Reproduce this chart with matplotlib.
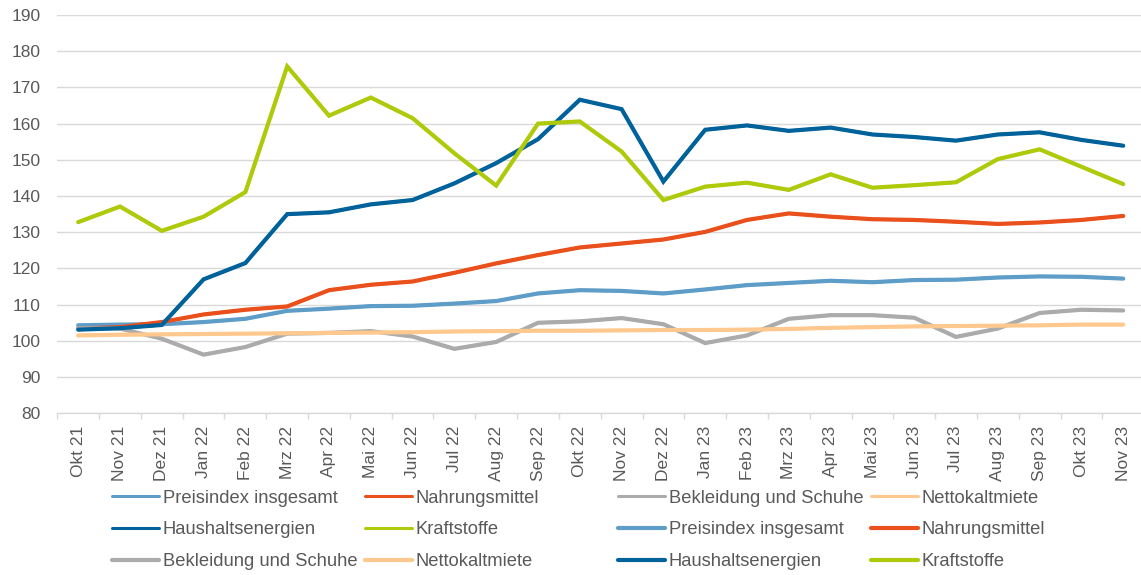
import numpy as np
import matplotlib
matplotlib.use('Agg')
import matplotlib.pyplot as plt

plt.rcParams['font.family'] = ['Liberation Sans', 'DejaVu Sans']

months = ['Okt 21','Nov 21','Dez 21','Jan 22','Feb 22','Mrz 22','Apr 22','Mai 22','Jun 22',
          'Jul 22','Aug 22','Sep 22','Okt 22','Nov 22','Dez 22','Jan 23','Feb 23','Mrz 23',
          'Apr 23','Mai 23','Jun 23','Jul 23','Aug 23','Sep 23','Okt 23','Nov 23']

# Werte
preisindex = [104.3,104.5,104.6,105.2,106.1,108.3,108.9,109.6,109.7,110.3,111.0,113.1,114.0,
              113.8,113.1,114.2,115.4,116.0,116.6,116.2,116.8,116.9,117.5,117.8,117.7,117.2]
nahrung = [103.4,103.8,105.2,107.3,108.6,109.5,114.0,115.5,116.4,118.8,121.4,123.7,125.8,
           126.9,128.0,130.1,133.4,135.2,134.3,133.6,133.4,132.9,132.3,132.7,133.4,134.5]
bekleidung = [103.5,103.4,100.6,96.2,98.3,102.0,102.2,102.7,101.2,97.8,99.7,105.0,105.4,
              106.3,104.6,99.4,101.5,106.1,107.1,107.1,106.4,101.1,103.4,107.7,108.6,108.4]
netto = [101.5,101.7,101.8,101.9,102.0,102.1,102.2,102.3,102.4,102.6,102.7,102.8,102.8,
         102.9,103.0,103.0,103.1,103.3,103.6,103.8,104.0,104.1,104.2,104.3,104.5,104.5]
haushalt = [103.1,103.5,104.4,117.0,121.5,135.0,135.5,137.7,138.9,143.5,149.1,155.7,166.6,
            164.0,144.0,158.3,159.5,158.0,158.9,157.0,156.3,155.3,157.0,157.6,155.5,153.9]
kraft = [132.8,137.1,130.4,134.3,141.1,175.8,162.2,167.2,161.5,151.8,142.9,160.0,160.6,
         152.3,138.9,142.6,143.7,141.7,146.0,142.3,143.0,143.8,150.2,152.9,148.1,143.3]

names = ['Preisindex insgesamt','Nahrungsmittel','Bekleidung und Schuhe','Nettokaltmiete',
         'Haushaltsenergien','Kraftstoffe']
colors = ['#5F9DC9','#E9501B','#ABABAB','#FFC88E','#00629B','#AFCA0B']
series = [preisindex, nahrung, bekleidung, netto, haushalt, kraft]

W, H = 1141, 575
fig = plt.figure(figsize=(W/100, H/100), dpi=100)
ax = fig.add_axes([57.3/W, 1-413.3/H, 1086.8/W, (413.3-15)/H])

x = np.arange(len(months))
lines = []
# erst duenne, dann dicke Linien (die Vorlage hat jede Reihe doppelt)
for lw in [2.2, 3.0]:
    for s, n, c in zip(series, names, colors):
        l, = ax.plot(x, s, color=c, lw=lw, solid_capstyle='round', solid_joinstyle='miter', label=n)
        lines.append(l)

ax.set_xlim(-0.5, len(months)-0.5)
ax.set_ylim(80, 190)
ax.set_yticks(np.arange(80, 191, 10))
ax.set_xticks(x)
ax.set_xticklabels(months, rotation=90)
ax.set_xticks(np.arange(-0.5, len(months), 1), minor=True)
ax.grid(axis='y', color='#D9D9D9', lw=1.0)
ax.set_axisbelow(True)
for sp in ['top','right','left']:
    ax.spines[sp].set_visible(False)
ax.spines['bottom'].set_color('#D9D9D9')
ax.spines['bottom'].set_linewidth(1.0)
ax.tick_params(axis='y', length=0, pad=12, labelsize=12.5, labelcolor='#595959')
ax.tick_params(axis='x', which='major', length=0, pad=9, labelsize=12.5, labelcolor='#595959')
ax.tick_params(axis='x', which='minor', length=4, width=1.0, color='#D9D9D9')

# Legende: 4 gleich breite Spalten, zeilenweise gefuellt
colX = [111.7, 365, 618, 871]
for i in range(4):
    hs = [lines[j] for j in range(i, 12, 4)]
    fig.legend(handles=hs, labels=[h.get_label() for h in hs], loc='center left',
               bbox_to_anchor=(colX[i]/W, 1-530/H), frameon=False, fontsize=13.2,
               handlelength=2.56, handletextpad=0.22, labelspacing=0.8, borderpad=0,
               borderaxespad=0, labelcolor='#595959')

fig.savefig('out.png', dpi=100)
